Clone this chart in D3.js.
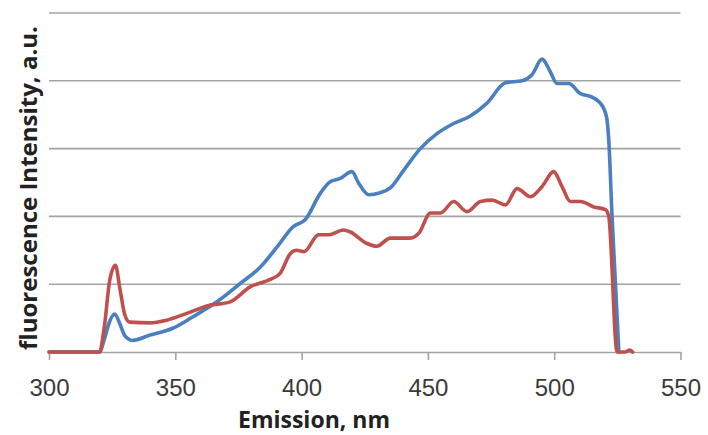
<!DOCTYPE html>
<html lang="en">
<head>
<meta charset="utf-8">
<title>Fluorescence emission</title>
<script src="https://cdnjs.cloudflare.com/ajax/libs/d3/7.8.5/d3.min.js"></script>
<style>
  body { margin: 0; background: #fff; }
  svg { display: block; font-family: "Open Sans", sans-serif; }
  .grid line { stroke: #a3a3a3; stroke-width: 1.6; }
  .axis path, .axis line { stroke: #a3a3a3; stroke-width: 1.6; }
  .axis text { fill: #3a3a3a; font-size: 24px; }
  .line { fill: none; stroke-width: 3.6; stroke-linejoin: round; stroke-linecap: round; }
</style>
</head>
<body>
<svg id="chart"></svg>
<script>
// emission spectra (wavelength nm / intensity in gridline units)
var blueNm  = [300, 320, 322, 324, 326, 328, 330, 333, 340, 349, 357, 366.5, 375.7, 383.6, 390.3, 396.7, 401.4, 407.4, 411.3, 415.3, 419.9, 422.6, 426.6, 431.1, 435.1, 440.4, 447, 453.6, 460.2, 466.8, 473.4, 480.7, 487.3, 491.2, 495.2, 498.5, 501.1, 505.8, 510.4, 514.3, 518.3, 520.7, 521.6, 522.9, 525.6];
var blueVal = [0, 0, 0.2, 0.45, 0.56, 0.42, 0.24, 0.17, 0.25, 0.35, 0.52, 0.74, 1.01, 1.25, 1.55, 1.85, 1.95, 2.34, 2.51, 2.56, 2.66, 2.49, 2.32, 2.35, 2.42, 2.68, 3.0, 3.22, 3.37, 3.48, 3.67, 3.97, 4.0, 4.09, 4.32, 4.13, 3.96, 3.96, 3.81, 3.77, 3.67, 3.47, 3.13, 2.0, 0];

var redNm  = [300, 320, 322, 324, 326.3, 328, 330, 332, 340, 346.6, 354.6, 362.5, 371.7, 379.6, 387.6, 391.5, 395.5, 398, 401, 406.7, 410.7, 416.6, 419.3, 425.9, 429.8, 435.1, 443, 446.4, 451, 455, 460.2, 465.5, 470.8, 475.4, 480.7, 485.3, 490.6, 495.2, 499.8, 503.1, 506.4, 510.4, 515.7, 520.3, 521.6, 524.9, 528, 530, 531];
var redVal = [0, 0, 0.4, 1.05, 1.28, 0.95, 0.55, 0.44, 0.43, 0.47, 0.57, 0.68, 0.74, 0.96, 1.07, 1.16, 1.45, 1.5, 1.48, 1.73, 1.73, 1.8, 1.77, 1.6, 1.56, 1.68, 1.68, 1.75, 2.05, 2.05, 2.22, 2.07, 2.22, 2.24, 2.17, 2.41, 2.29, 2.44, 2.66, 2.44, 2.22, 2.22, 2.14, 2.1, 2.0, 0, 0, 0.03, 0];

var xTicks = [300, 350, 400, 450, 500, 550];
var yGrid = [0, 1, 2, 3, 4, 5];

var w = 708, h = 435;
var x0 = 49, x1 = 680.5, yBase = 352, yTop = 13;

var svg = d3.select("#chart").attr("width", w).attr("height", h);

var x = d3.scaleLinear().domain([300, 550]).range([x0, x1]);
var y = d3.scaleLinear().domain([0, 5]).range([yBase, yTop]);

// horizontal gridlines
svg.append("g").attr("class", "grid")
  .selectAll("line").data(yGrid.slice(1)).enter().append("line")
  .attr("x1", x0).attr("x2", x1)
  .attr("y1", function(d) { return y(d); })
  .attr("y2", function(d) { return y(d); });

// x axis
var xAxis = d3.axisBottom(x).tickValues(xTicks).tickSize(8).tickSizeOuter(0).tickPadding(19);
svg.append("g").attr("class", "axis")
  .attr("transform", "translate(0," + yBase + ")")
  .call(xAxis);

var line = d3.line()
  .x(function(d) { return x(d[0]); })
  .y(function(d) { return y(d[1]); })
  .curve(d3.curveMonotoneX);

svg.append("path").attr("class", "line")
  .attr("stroke", "#4a7fc0")
  .attr("d", line(d3.zip(blueNm, blueVal)));

svg.append("path").attr("class", "line")
  .attr("stroke", "#c0504d")
  .attr("d", line(d3.zip(redNm, redVal)));

// titles
svg.append("text")
  .attr("x", 314).attr("y", 428)
  .attr("text-anchor", "middle")
  .style("font-size", "23px").style("font-weight", "bold").style("fill", "#222")
  .text("Emission, nm");

svg.append("text")
  .attr("transform", "translate(37,188) rotate(-90)")
  .attr("text-anchor", "middle")
  .style("font-size", "24px").style("font-weight", "bold").style("fill", "#222")
  .text("fluorescence Intensity, a.u.");
</script>
</body>
</html>
